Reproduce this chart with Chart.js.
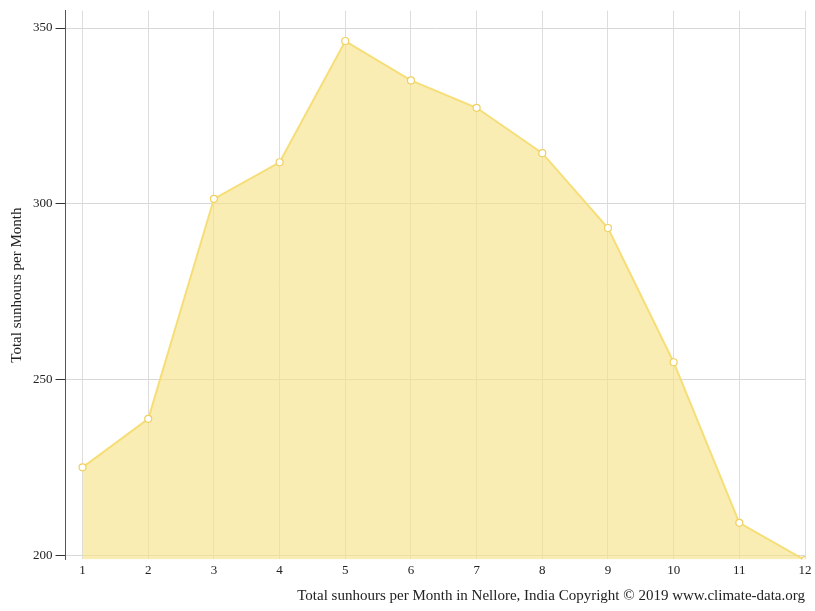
<!DOCTYPE html>
<html><head><meta charset="utf-8">
<script src="https://cdn.jsdelivr.net/npm/chart.js@4"></script>
<style>html,body{margin:0;padding:0;background:#fff}#w{width:815px;height:611px}</style>
</head><body><div id="w"><canvas id="c"></canvas></div>
<script>
const months = [1,2,3,4,5,6,7,8,9,10,11,12];
const sunhours = [225,238.8,301.4,311.8,346.3,335.1,327.3,314.4,293.1,254.9,209.2,198.6];
const yTicks = [200,250,300,350];
const xTitle = "Total sunhours per Month in Nellore, India Copyright © 2019 www.climate-data.org";
const yTitle = "Total sunhours per Month";
const font = {family:"'Liberation Serif','DejaVu Serif',serif", size:13};
new Chart(document.getElementById('c'), {
  type:'line',
  data:{datasets:[{data:months.map((m,i)=>({x:m,y:sunhours[i]})),
    borderColor:'rgba(245,220,110,0.9)', backgroundColor:'rgba(248,228,140,0.65)',
    fill:'start', borderWidth:2, tension:0, pointRadius:3.5, pointBackgroundColor:'#fff',
    pointBorderColor:'#efd060', pointBorderWidth:1.2}]},
  options:{responsive:true, maintainAspectRatio:false, animation:false,
    layout:{padding:{left:4,right:10,top:10,bottom:2}},
    plugins:{legend:{display:false}, tooltip:{enabled:false}},
    scales:{
      x:{type:'linear', min:0.74, max:12,
        afterBuildTicks:a=>{a.ticks=months.map(v=>({value:v}));},
        ticks:{font, color:'#222', callback:v=>v, maxRotation:0},
        grid:{color:'#ddd', drawTicks:false, tickLength:8}, border:{display:false},
        title:{display:true, text:xTitle, font:{...font,size:15}, color:'#222', align:'end', padding:{top:6}}},
      y:{min:198.8, max:354.9,
        afterBuildTicks:a=>{a.ticks=yTicks.map(v=>({value:v}));},
        ticks:{font, color:'#222'},
        grid:{color:'#d8d8d8', tickLength:10, tickColor:'#333'}, border:{display:true,color:'#555'},
        title:{display:true, text:yTitle, font:{...font,size:15}, color:'#222'}}
    }}
});
</script></body></html>
